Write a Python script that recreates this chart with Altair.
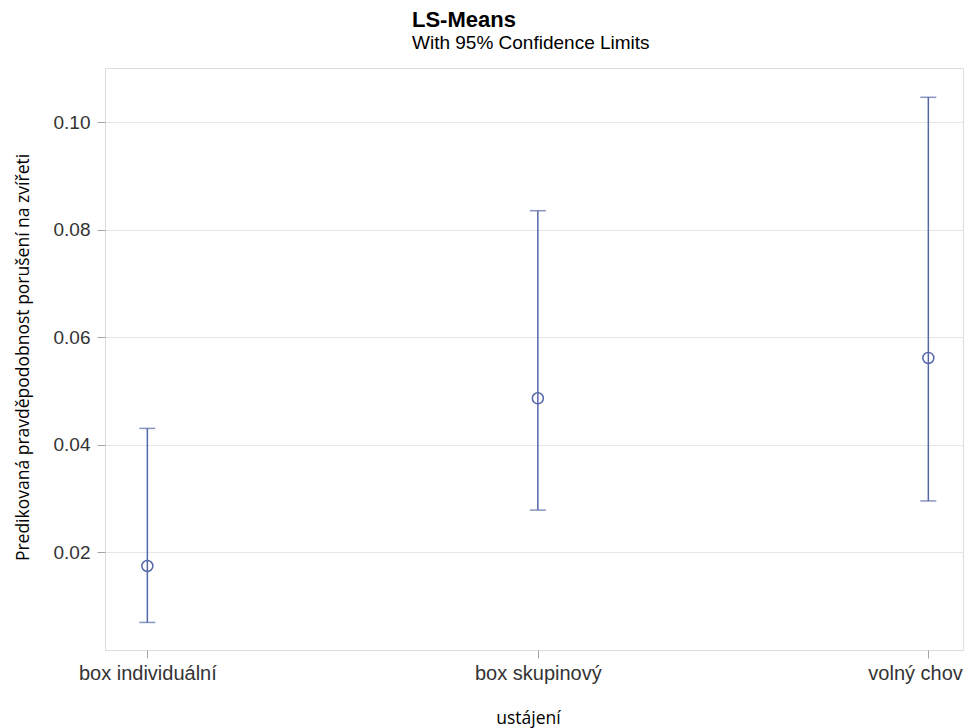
import altair as alt
import pandas as pd

categories = ["box individuální", "box skupinový", "volný chov"]
means = [0.0174, 0.0486, 0.0561]
lower = [0.0069, 0.0278, 0.0295]
upper = [0.0430, 0.0835, 0.1046]
y_ticks = [0.02, 0.04, 0.06, 0.08, 0.10]

df = pd.DataFrame({"cat": categories, "mean": means, "lower": lower, "upper": upper})

COLOR = "#5567A9"
FRAME = "#A0A4A8"

xs = alt.Scale(type="point", domain=categories, padding=0.0986, align=0.55)
ys = alt.Scale(domain=[0.00177, 0.11005], nice=False, zero=False)

x_enc = alt.X("cat:N", scale=xs, sort=categories,
              axis=alt.Axis(title="ustájení", labelAngle=0, domain=False, grid=False,
                            tickSize=8, tickColor=FRAME, labelPadding=5,
                            labelFlush=38, labelFlushOffset=34,
                            labelFont="Liberation Sans", labelFontSize=20, labelColor="#333333",
                            titleFont="Open Sans", titleFontSize=17.5, titleFontWeight="normal",
                            titleColor="#000000", titleX=423, titleY=73,
                            titleBaseline="alphabetic", titleAlign="center"))

y_axis = alt.Axis(title="Predikovaná pravděpodobnost porušení na zvířeti", values=y_ticks,
                  format=".2f", domain=False, grid=True, gridColor="#E6E6E6",
                  tickSize=8, tickColor=FRAME, labelPadding=7,
                  labelFont="Liberation Sans", labelFontSize=19, labelColor="#333333",
                  titleFont="Open Sans", titleFontSize=17.5, titleFontWeight="normal",
                  titleColor="#000000", titleX=-82, titleY=289, titleAngle=-90,
                  titleBaseline="middle", titleAlign="center")

base = alt.Chart(df)

rule = base.mark_rule(color=COLOR, strokeWidth=1.5).encode(
    x=x_enc,
    y=alt.Y("lower:Q", scale=ys, axis=y_axis),
    y2="upper:Q",
)
cap_hi = base.mark_tick(color=COLOR, size=16, thickness=1.5, orient="horizontal").encode(
    x=alt.X("cat:N", scale=xs, sort=categories),
    y=alt.Y("upper:Q", scale=ys),
)
cap_lo = base.mark_tick(color=COLOR, size=16, thickness=1.5, orient="horizontal").encode(
    x=alt.X("cat:N", scale=xs, sort=categories),
    y=alt.Y("lower:Q", scale=ys),
)
pts = base.mark_point(shape="circle", filled=False, size=121, strokeWidth=1.5,
                      color=COLOR, opacity=1).encode(
    x=alt.X("cat:N", scale=xs, sort=categories),
    y=alt.Y("mean:Q", scale=ys),
)

chart = alt.layer(rule, cap_hi, cap_lo, pts).properties(
    width=858,
    height=582,
    title=alt.TitleParams(
        text="LS-Means",
        subtitle="With 95% Confidence Limits",
        anchor="start",
        frame="group",
        dx=307,
        offset=14,
        font="Liberation Sans",
        fontSize=22,
        fontWeight="bold",
        color="#000000",
        subtitleFont="Liberation Sans",
        subtitleFontSize=19,
        subtitleColor="#000000",
        subtitlePadding=2,
    ),
    autosize=alt.AutoSizeParams(type="none"),
    padding={"left": 97, "top": 60, "right": 1, "bottom": 78},
).configure_view(
    stroke=FRAME, strokeWidth=1.2
).configure(background="white")

chart.save("out.html", embed_options={"renderer": "svg", "actions": False})
